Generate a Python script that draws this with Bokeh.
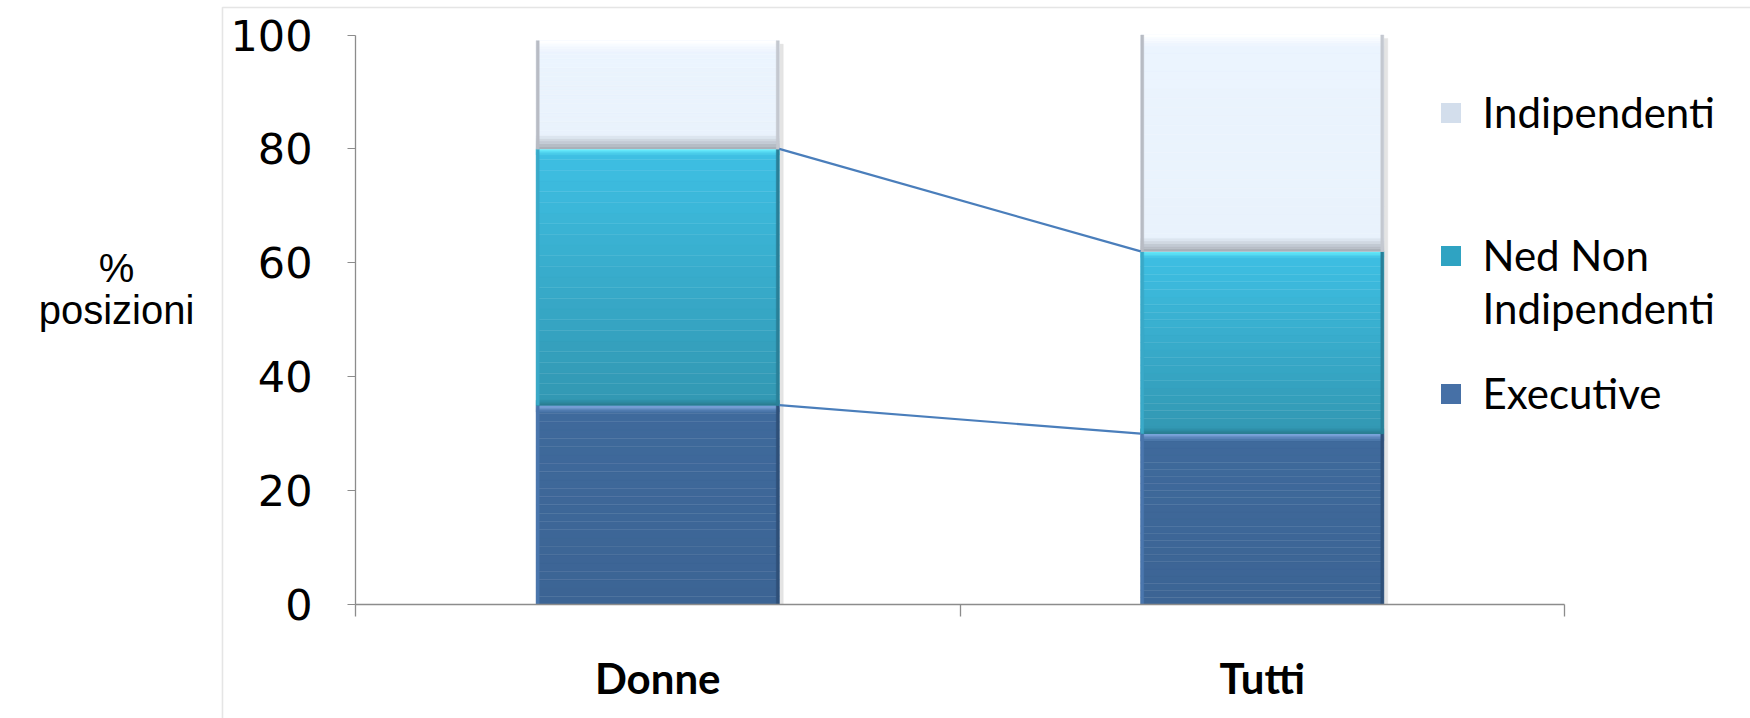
import numpy as np
from bokeh.plotting import figure
from bokeh.models import Range1d, FixedTicker, LinearAxis, Legend, LegendItem, Label, BoxAnnotation
from bokeh.embed import file_html
from bokeh.resources import INLINE

# ---------------- data ----------------
categories = ["Donne", "Tutti"]
executive = [35, 30]
ned_non_indipendenti = [45, 32]
indipendenti = [19, 38]
legend_lines = ["Indipendenti", "Ned Non", "Indipendenti", "Executive"]
y_ticks = [0, 20, 40, 60, 80, 100]
y_axis_title = ["%", "posizioni"]

# ---------------- layout constants (figure pixels) ----------------
W, H = 1890, 760
PA_L, PA_R, PA_T, PA_B = 355, 1564, 34.5, 604   # where the value axes start / end
Y_MAX = 100.0
PX_X = (PA_R - PA_L) / len(categories)
PX_Y = (PA_B - PA_T) / Y_MAX
BAR_W = 0.402


def dx(fx):
    return (fx - PA_L) / PX_X


def dy(fy):
    return (PA_B - fy) / PX_Y


p = figure(width=W, height=H, output_backend="svg", toolbar_location=None,
           x_range=Range1d(dx(0), dx(W)), y_range=Range1d(dy(H), dy(0)),
           x_axis_type=None, y_axis_type=None,
           min_border_left=0, min_border_right=0, min_border_top=0, min_border_bottom=0)
p.outline_line_color = None
p.background_fill_color = "white"
p.border_fill_color = "white"


def hex2rgb(h):
    return tuple(int(h[i:i + 2], 16) for i in (1, 3, 5))


def mix(c1, c2, t):
    a, b = hex2rgb(c1), hex2rgb(c2)
    return "#%02x%02x%02x" % tuple(int(round(a[i] + (b[i] - a[i]) * t)) for i in range(3))


xs = np.arange(len(categories)) + 0.5
exe = np.array(executive, float)
ned = np.array(ned_non_indipendenti, float)
ind = np.array(indipendenti, float)
exec_bot, exec_top = np.zeros_like(exe), exe
ned_bot, ned_top = exe, exe + ned
ind_bot, ind_top = exe + ned, exe + ned + ind

# chart border box
p.add_layout(BoxAnnotation(left=dx(222), right=dx(W + 20), top=dy(7), bottom=dy(H + 20),
                           fill_alpha=0, fill_color=None,
                           line_color="#a9a9a9", line_width=1.6, level="underlay"))


def band(bottom, top, color, x=None, width=BAR_W):
    x = xs if x is None else x
    return p.vbar(x=x, bottom=bottom, top=top, width=width,
                  fill_color=color, line_color=color, line_width=0.4)


def segment(bot, top, c_top, c_bot, tb_px, tb_col, bb_px, bb_col,
            l_px, l_col, r_px, r_col, n=24):
    bot = np.asarray(bot, float)
    top = np.asarray(top, float)
    for k in range(n):
        b = bot + (top - bot) * k / n
        t = bot + (top - bot) * (k + 1) / n
        band(b, t, mix(c_bot, c_top, (k + 0.5) / n))
    m = 5
    if tb_px:
        th = tb_px / PX_Y
        for k in range(m):
            t = top - th * k / m
            b = top - th * (k + 1) / m
            band(b, t, mix(tb_col, c_top, k / m))
    if bb_px:
        th = bb_px / PX_Y
        for k in range(m):
            b = bot + th * k / m
            t = bot + th * (k + 1) / m
            band(b, t, mix(bb_col, c_bot, k / m))
    if l_px:
        e = l_px / PX_X
        band(bot, top, l_col, x=xs - BAR_W / 2 + e / 2, width=e)
    if r_px:
        e = r_px / PX_X
        band(bot, top, r_col, x=xs + BAR_W / 2 - e / 2, width=e)


# soft shadow right of bars
sh = 4 / PX_X
band(exec_bot, ind_top - 0.6, "#e4e4e4", x=xs + BAR_W / 2 + sh / 2, width=sh)

segment(exec_bot, exec_top, "#3f6a9c", "#3c6494",
        7, "#86aee6", 0, None, 3, "#4a76ad", 3, "#2f5079")
segment(ned_bot, ned_top, "#3ec0e4", "#3297b2",
        6, "#70f4ff", 5, "#2a7a8c", 3, "#3aa9c8", 3, "#2a8098")
segment(ind_bot, ind_top, "#ebf4fe", "#e9f2fc",
        11, "#ffffff", 13, "#aab0b9", 3, "#b8bcc4", 3, "#c4c8d0")


# legend swatch renderers (zero-size, carry the swatch colours only)
def swatch(color, alpha=1.0):
    return p.vbar(x=[0], bottom=[0], top=[0], width=0,
                  fill_color=color, fill_alpha=alpha, line_color=None)


r_ind = swatch("#d3deec")
r_ned = swatch("#2fa3c2")
r_exec = swatch("#4670a6")
r_blank = swatch("#ffffff", 0)

# series lines between stacked segments
for cum in (exec_top, ned_top):
    for i in range(len(categories) - 1):
        p.line(x=[xs[i] + BAR_W / 2, xs[i + 1] - BAR_W / 2], y=[cum[i], cum[i + 1]],
               line_color="#4a7ebb", line_width=2.2)

# ---------------- axes ----------------
AXIS_COL = "#8c8c8c"
xaxis = LinearAxis(ticker=FixedTicker(ticks=list(xs), minor_ticks=list(range(len(categories) + 1))),
                   major_label_overrides={float(x): c for x, c in zip(xs, categories)},
                   fixed_location=0, bounds=(0, len(categories)))
xaxis.axis_line_color = AXIS_COL
xaxis.axis_line_width = 1.3
xaxis.major_tick_out = 0
xaxis.major_tick_in = 0
xaxis.minor_tick_out = 12
xaxis.minor_tick_in = 0
xaxis.minor_tick_line_color = AXIS_COL
xaxis.minor_tick_line_width = 1.3
xaxis.major_label_text_font = "Lato"
xaxis.major_label_text_font_style = "bold"
xaxis.major_label_text_font_size = "42px"
xaxis.major_label_text_color = "black"
xaxis.major_label_standoff = 36
p.add_layout(xaxis, "below")

yaxis = LinearAxis(ticker=FixedTicker(ticks=y_ticks), fixed_location=0, bounds=(0, Y_MAX))
yaxis.axis_line_color = AXIS_COL
yaxis.axis_line_width = 1.3
yaxis.major_tick_out = 8
yaxis.major_tick_in = 0
yaxis.major_tick_line_color = AXIS_COL
yaxis.minor_tick_line_color = None
yaxis.major_label_text_font = "DejaVu Sans"
yaxis.major_label_text_font_size = "43px"
yaxis.major_label_text_color = "black"
yaxis.major_label_standoff = 35
p.add_layout(yaxis, "left")

# y-axis title (outside the chart box)
for txt, cy in zip(y_axis_title, (267, 309)):
    p.add_layout(Label(x=dx(116), y=dy(cy), text=txt,
                       text_align="center", text_baseline="middle",
                       text_font="Liberation Sans", text_font_size="40px", text_color="black"))

# ---------------- legend ----------------
LEG_X = 1437.5
leg_centers = [113, 256, 309, 394]
leg_rends = [r_ind, r_ned, r_blank, r_exec]
for lbl, cy, rend in zip(legend_lines, leg_centers, leg_rends):
    lg = Legend(items=[LegendItem(label=lbl, renderers=[rend])],
                location=(LEG_X, H - (cy + 24)),
                glyph_width=25, glyph_height=25, label_standoff=20,
                label_text_font="Lato", label_text_font_size="42px", label_text_color="black",
                padding=0, margin=0, spacing=0,
                border_line_color=None, background_fill_alpha=0)
    p.add_layout(lg, "center")

open("out.html", "w").write(file_html(p, INLINE))
